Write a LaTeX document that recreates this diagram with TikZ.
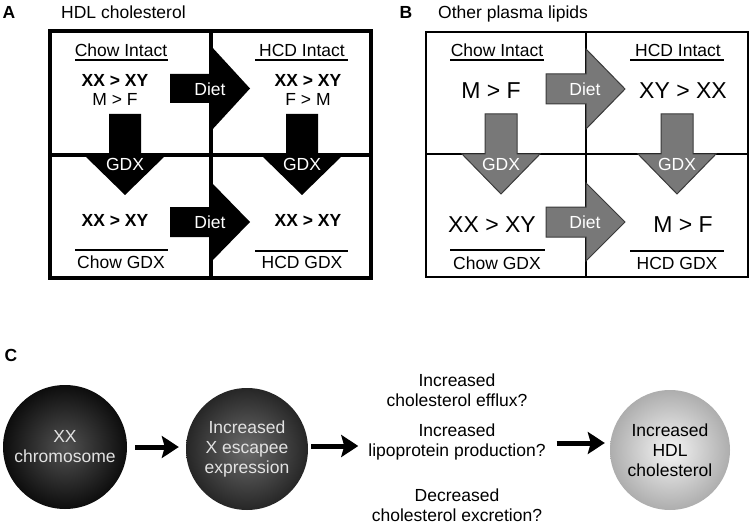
\documentclass[tikz,border=0pt]{standalone}
\usepackage{fontspec}
\setmainfont{Liberation Sans}
\usetikzlibrary{arrows.meta}
\definecolor{arrowgray}{HTML}{787878}
\definecolor{edgegray}{HTML}{3A3A3A}
\definecolor{circtext}{HTML}{E2E2E2}
\begin{document}
\begin{tikzpicture}[x=1pt,y=-1pt,
  txt/.style={font=\fontsize{17.5}{20}\selectfont, inner sep=0pt, text height=12.6pt, text depth=0pt},
  btxt/.style={font=\fontsize{17.5}{20}\selectfont\bfseries, inner sep=0pt, text height=12.6pt, text depth=0pt},
  bigtxt/.style={font=\fontsize{23}{26}\selectfont, inner sep=0pt, text height=16.5pt, text depth=0pt},
  wtxt/.style={txt, text=white},
  multi/.style={font=\fontsize{17.5}{20}\selectfont, inner sep=0pt, align=center},
  blkarrow/.style={fill=black},
  gryarrow/.style={fill=arrowgray, draw=edgegray, line width=1pt, line join=miter},
  rule/.style={line width=1.2pt},
  circ/.style={circle, minimum size=#1, inner sep=0pt, align=center, font=\fontsize{17.5}{20}\selectfont},
  carrow/.style={line width=5pt, -{Stealth[length=17pt,width=22pt,inset=3pt]}}
]
\useasboundingbox (0,0) rectangle (750,524);

% ---------- Panel A ----------
\node[btxt] (labA) at (9,12) {A};
\node[txt, anchor=west] (titA) at (61,12) {HDL cholesterol};
\draw[line width=3.5pt] (50,31) rectangle (371,278);
\draw[line width=3.5pt] (211,31) -- (211,278);
\draw[line width=3.5pt] (50,155) -- (371,155);

\fill[blkarrow] (170,74) -- (211,74) -- (211,46) -- (250,88.5) -- (211,131) -- (211,103) -- (170,103) -- cycle;
\fill[blkarrow] (170,207) -- (211,207) -- (211,182) -- (250,222) -- (211,262) -- (211,237) -- (170,237) -- cycle;
\fill[blkarrow] (109,114) -- (141,114) -- (141,155) -- (166,155) -- (125,195) -- (84,155) -- (109,155) -- cycle;
\fill[blkarrow] (286,114) -- (318,114) -- (318,155) -- (343,155) -- (302,195) -- (261,155) -- (286,155) -- cycle;

\node[txt] (aci) at (121,50) {Chow Intact};
\draw[rule] (75,60) -- (168,60);
\node[txt] (ahi) at (302,50) {HCD Intact};
\draw[rule] (255,60) -- (348,60);
\node[btxt] (a1) at (115,80) {XX > XY};
\node[txt] (a2) at (115,99) {M > F};
\node[btxt] (a3) at (308,80) {XX > XY};
\node[txt] (a4) at (308,99) {F > M};
\node[wtxt] (ad1) at (210,89) {Diet};
\node[wtxt] (ad2) at (210,222) {Diet};
\node[wtxt] (ag1) at (125,164) {GDX};
\node[wtxt] (ag2) at (302,164) {GDX};
\node[btxt] (a5) at (115,220) {XX > XY};
\node[btxt] (a6) at (308,220) {XX > XY};
\draw[rule] (75,250) -- (168,250);
\node[txt] (acg) at (121,262) {Chow GDX};
\draw[rule] (255,251) -- (348,251);
\node[txt] (ahg) at (302,262) {HCD GDX};

% ---------- Panel B ----------
\node[btxt] (labB) at (406,12) {B};
\node[txt, anchor=west] (titB) at (438,12) {Other plasma lipids};
\draw[line width=1.5pt] (426,32) rectangle (748,277);
\draw[line width=1.5pt] (586,32) -- (586,277);
\draw[line width=1.5pt] (426,154) -- (748,154);

\filldraw[gryarrow] (546,74) -- (586,74) -- (586,49) -- (625,89) -- (586,129) -- (586,104) -- (546,104) -- cycle;
\filldraw[gryarrow] (546,207) -- (586,207) -- (586,183) -- (625,222) -- (586,261) -- (586,237) -- (546,237) -- cycle;
\filldraw[gryarrow] (485,114) -- (517,114) -- (517,154) -- (540,154) -- (501,194) -- (462,154) -- (485,154) -- cycle;
\filldraw[gryarrow] (661,114) -- (693,114) -- (693,154) -- (716,154) -- (677,194) -- (638,154) -- (661,154) -- cycle;

\node[txt] (bci) at (497,50) {Chow Intact};
\draw[rule] (450,60) -- (544,60);
\node[txt] (bhi) at (678,50) {HCD Intact};
\draw[rule] (630,60) -- (724,60);
\node[bigtxt] (b1) at (491,90) {M > F};
\node[bigtxt] (b2) at (683,90) {XY > XX};
\node[wtxt] (bd1) at (585,89) {Diet};
\node[wtxt] (bd2) at (585,222) {Diet};
\node[wtxt] (bg1) at (501,164) {GDX};
\node[wtxt] (bg2) at (677,164) {GDX};
\node[bigtxt] (b3) at (492,224) {XX > XY};
\node[bigtxt] (b4) at (683,224) {M > F};
\draw[rule] (450,250) -- (545,250);
\node[txt] (bcg) at (497,263) {Chow GDX};
\draw[rule] (630,251) -- (724,251);
\node[txt] (bhg) at (677,263) {HCD GDX};

% ---------- Panel C ----------
\node[btxt] (labC) at (11,355) {C};
\node[circ=124pt, shading=radial, inner color=black!68, outer color=black!95, text=circtext] (c1) at (65,447) {XX\\chromosome};
\node[circ=122pt, shading=radial, inner color=black!58, outer color=black!85, text=circtext] (c2) at (247,449) {Increased\\X escapee\\expression};
\node[circ=120pt, shading=radial, inner color=black!4, outer color=black!32, text=black] (c3) at (670,450) {Increased\\HDL\\cholesterol};

\node[multi] (m1) at (457,390) {Increased\\cholesterol efflux?};
\node[multi] (mid) at (457,442) {Increased\\lipoprotein production?};
\node[multi] (m3) at (457,505) {Decreased\\cholesterol excretion?};

\coordinate (e1) at (c2.west |- c1.east);
\draw[carrow] ([xshift=8pt]c1.east) -- ([xshift=-7pt]e1);
\coordinate (e2) at (mid.west |- 0,446);
\coordinate (s2) at (c2.east |- 0,446);
\draw[carrow] ([xshift=3pt]s2) -- ([xshift=-10pt]e2);
\coordinate (s3) at (mid.east |- 0,443);
\coordinate (e3) at (c3.west |- 0,443);
\draw[carrow] ([xshift=11pt]s3) -- ([xshift=-5pt]e3);
\end{tikzpicture}
\end{document}
